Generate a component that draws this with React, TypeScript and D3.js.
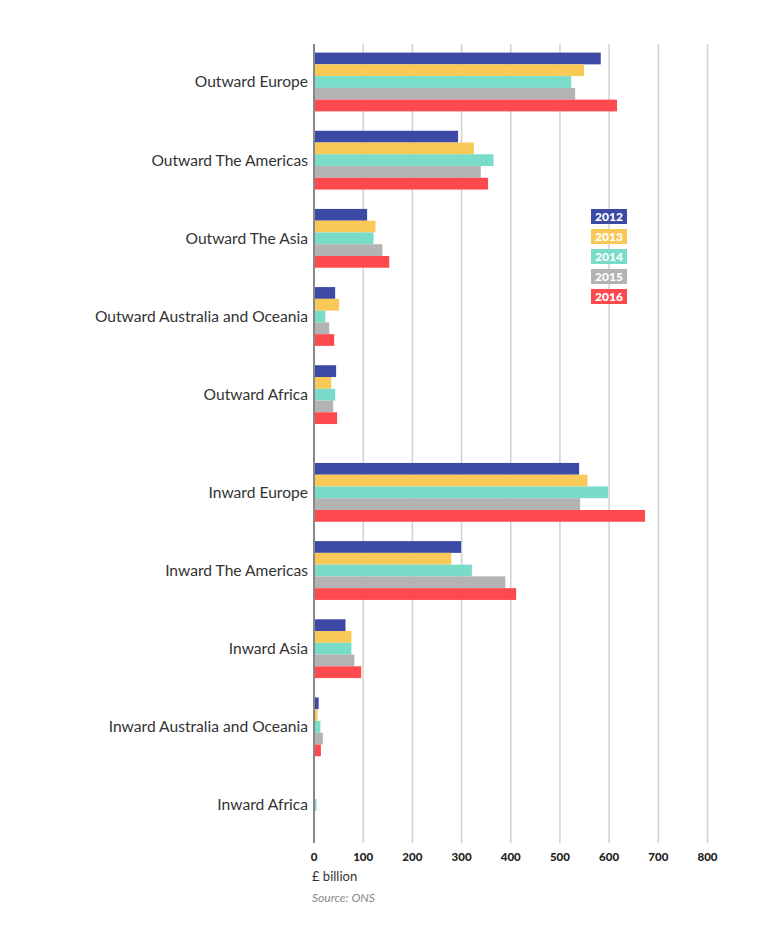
import React from "react";
import * as d3 from "d3";

const categories = [
  "Outward Europe",
  "Outward The Americas",
  "Outward The Asia",
  "Outward Australia and Oceania",
  "Outward Africa",
  "Inward Europe",
  "Inward The Americas",
  "Inward Asia",
  "Inward Australia and Oceania",
  "Inward Africa",
];
const years = ["2012", "2013", "2014", "2015", "2016"];
const v2012 = [583, 293, 108, 43, 45, 539, 299, 64, 9.5, 0];
const v2013 = [549, 325, 125, 51, 35, 556, 279, 76, 7, 0];
const v2014 = [523, 365, 121, 23, 43, 598, 321, 76, 13, 5];
const v2015 = [531, 339, 139, 31, 39, 541, 389, 82, 18, 0];
const v2016 = [616, 354, 153, 41, 47, 673, 411, 96, 14, 0];
const series = [v2012, v2013, v2014, v2015, v2016];
const colors = ["#3d4aa5", "#f8c957", "#78dcc8", "#b3b3b3", "#fe4a4e"];
const ticks = [0, 100, 200, 300, 400, 500, 600, 700, 800];

export default function App() {
  const W = 760;
  const H = 941;
  const x = d3.scaleLinear().domain([0, 800]).range([314, 707.5]);
  // position index with extra gap between outward and inward groups
  const pos = (i: number) => i + (i >= 5 ? 0.25 : 0);
  const y = d3.scaleLinear().domain([0, 9.25]).range([82, 805]);
  const inner = d3.scaleBand().domain(years).range([-29.4, 29.4]).padding(0);
  const fontFam = "Lato, 'Open Sans', sans-serif";
  const gridTop = 44;
  const gridBottom = 843;

  return (
    <svg width={W} height={H} style={{ position: "absolute", left: 0, top: 0 }}>
      <rect width={W} height={H} fill="#fff" />
      {ticks.slice(1).map((t) => (
        <line key={t} x1={x(t)} x2={x(t)} y1={gridTop} y2={gridBottom} stroke="#d0d0d0" strokeWidth={1.5} />
      ))}
      {categories.map((c, i) => (
        <g key={c}>
          {series.map((s, k) => (
            <rect
              key={k}
              x={x(0)}
              y={y(pos(i)) + (inner(years[k]) as number)}
              width={Math.max(0, x(s[i]) - x(0))}
              height={inner.bandwidth()}
              fill={colors[k]}
            />
          ))}
          <text
            x={308}
            y={y(pos(i))}
            dy="0.35em"
            textAnchor="end"
            fontFamily={fontFam}
            fontSize={15.6}
            fill="#333"
          >
            {c}
          </text>
        </g>
      ))}
      <line x1={x(0)} x2={x(0)} y1={gridTop} y2={gridBottom} stroke="#888" strokeWidth={2} />
      {ticks.map((t) => (
        <text
          key={t}
          x={x(t)}
          y={857}
          dy="0.35em"
          textAnchor="middle"
          fontFamily={fontFam}
          fontWeight={900}
          fontSize={11.5}
          fill="#222"
        >
          {t}
        </text>
      ))}
      <text x={312} y={876} dy="0.35em" fontFamily={fontFam} fontSize={13} fill="#333">
        £ billion
      </text>
      <text x={312} y={898} dy="0.35em" fontFamily={fontFam} fontStyle="italic" fontSize={12} fill="#888">
        Source: ONS
      </text>
      {years.map((yr, k) => (
        <g key={yr}>
          <rect x={591} y={209 + k * 20} width={36} height={15} fill={colors[k]} />
          <text
            x={609}
            y={216.5 + k * 20}
            dy="0.36em"
            textAnchor="middle"
            fontFamily={fontFam}
            fontWeight={900}
            fontSize={12}
            fill="#fff"
          >
            {yr}
          </text>
        </g>
      ))}
    </svg>
  );
}
